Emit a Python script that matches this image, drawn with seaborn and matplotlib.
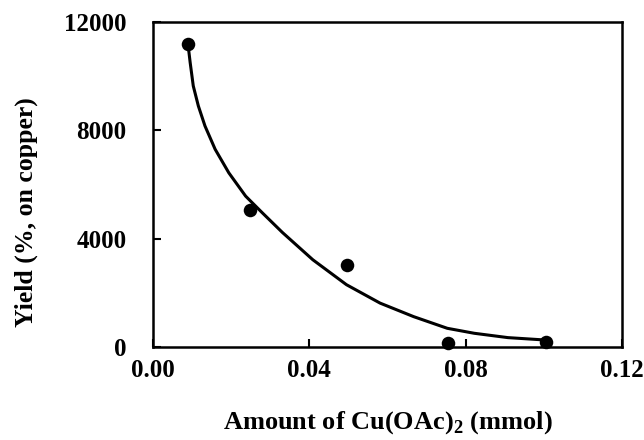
import matplotlib
matplotlib.use("Agg")
import matplotlib.pyplot as plt
import seaborn as sns
import pandas as pd

# Measured data points
amount = [0.0090, 0.0248, 0.0497, 0.0754, 0.1005]
yield_pct = [11200, 5040, 3010, 160, 200]

# Fitted curve
curve_x = [0.0090, 0.0095, 0.0103, 0.0116, 0.0133, 0.0159, 0.0194, 0.0237,
           0.0280, 0.0331, 0.0409, 0.0495, 0.0581, 0.0667, 0.0753, 0.0822,
           0.0908, 0.1002]
curve_y = [11120, 10510, 9640, 8900, 8160, 7300, 6430, 5570,
           4950, 4230, 3220, 2300, 1620, 1120, 690, 506,
           346, 259]

x_ticks = [0.00, 0.04, 0.08, 0.12]
x_ticklabels = ["0.00", "0.04", "0.08", "0.12"]
y_ticks = [0, 4000, 8000, 12000]
y_ticklabels = ["0", "4000", "8000", "12000"]

sns.set_style("ticks")
plt.rcParams["font.family"] = ["Liberation Serif", "DejaVu Serif"]
plt.rcParams["font.weight"] = "bold"
plt.rcParams["text.color"] = "black"
plt.rcParams["axes.labelcolor"] = "black"
plt.rcParams["xtick.color"] = "black"
plt.rcParams["ytick.color"] = "black"
plt.rcParams["mathtext.fontset"] = "custom"
plt.rcParams["mathtext.rm"] = "Liberation Serif:bold"
plt.rcParams["mathtext.bf"] = "Liberation Serif:bold"

fig = plt.figure(figsize=(6.44, 4.40), dpi=100)
ax = fig.add_axes([0.2376, 0.2114, 0.7282, 0.7386])

df_pts = pd.DataFrame({"x": amount, "y": yield_pct})
df_cur = pd.DataFrame({"x": curve_x, "y": curve_y})

sns.lineplot(data=df_cur, x="x", y="y", ax=ax, color="black", linewidth=2.2,
             sort=False, estimator=None)
sns.scatterplot(data=df_pts, x="x", y="y", ax=ax, color="black", s=95,
                edgecolor="black", linewidth=0, zorder=5, clip_on=False)

ax.set_xlim(0, 0.12)
ax.set_ylim(0, 12000)
ax.set_xticks(x_ticks)
ax.set_xticklabels(x_ticklabels, fontsize=18, fontweight="bold")
ax.set_yticks(y_ticks)
ax.set_yticklabels(y_ticklabels, fontsize=18, fontweight="bold")
ax.tick_params(direction="in", length=6, width=1.5, colors="black")
ax.tick_params(axis="x", pad=9)
ax.tick_params(axis="y", pad=19)

for s in ax.spines.values():
    s.set_visible(True)
    s.set_linewidth(1.8)
    s.set_color("black")

ax.set_xlabel(r"Amount of Cu(OAc)$_\mathbf{2}$ (mmol)", fontsize=19,
              fontweight="bold")
ax.set_ylabel("Yield (%, on copper)", fontsize=18.5, fontweight="bold")
ax.xaxis.set_label_coords(0.5, -0.19)
ax.yaxis.set_label_coords(-0.245, 0.415)

fig.savefig("out.png", dpi=100)
